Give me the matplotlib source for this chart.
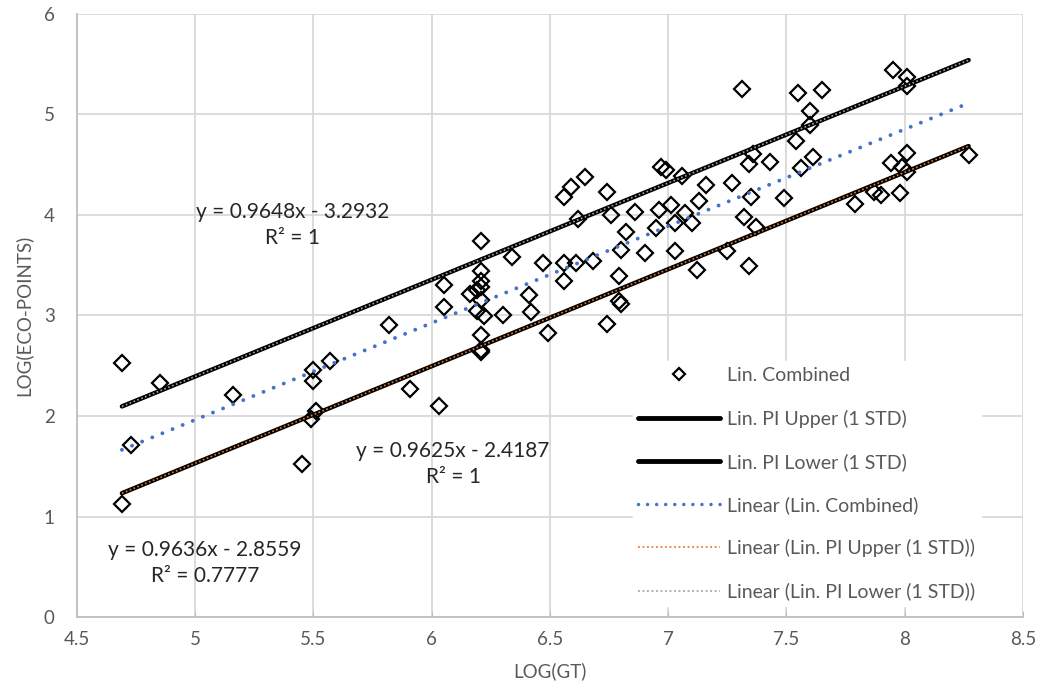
import numpy as np
import matplotlib.pyplot as plt
from matplotlib.lines import Line2D

plt.rcParams['font.family'] = ['Lato', 'DejaVu Sans']

# scatter data
log_gt = [4.69, 4.85, 4.73, 4.69, 5.16, 5.50, 5.50, 5.57, 5.51, 5.49, 5.45, 5.82,
          5.91, 6.03, 6.05, 6.05, 6.21, 6.16, 6.21, 6.21, 6.21, 6.19, 6.21, 6.19,
          6.22, 6.21, 6.21, 6.21, 6.34, 6.30, 6.41, 6.42, 6.49, 6.47, 6.56, 6.56,
          6.61, 6.62, 6.56, 6.59, 6.65, 6.74, 6.76, 6.86, 6.96, 7.01, 7.07, 7.10,
          7.03, 6.95, 6.82, 6.80, 6.90, 7.03, 6.97, 6.99, 7.06, 7.16, 7.27, 7.36,
          7.34, 7.43, 7.35, 7.49, 7.32, 7.37, 7.13, 7.25, 7.34, 7.12, 6.68, 6.79,
          6.79, 6.80, 6.74, 7.55, 7.65, 7.60, 7.60, 7.54, 7.61, 7.56, 7.95, 8.01,
          8.01, 8.01, 7.94, 7.99, 8.01, 7.98, 7.90, 7.87, 7.79, 8.27, 7.31]
log_eco = [2.53, 2.33, 1.71, 1.12, 2.21, 2.46, 2.35, 2.55, 2.05, 1.97, 1.52, 2.91,
           2.27, 2.10, 3.30, 3.08, 3.74, 3.21, 3.44, 3.34, 3.28, 3.25, 3.15, 3.04,
           2.99, 2.81, 2.66, 2.64, 3.58, 3.00, 3.20, 3.03, 2.83, 3.52, 3.52, 3.34,
           3.52, 3.96, 4.18, 4.28, 4.38, 4.23, 4.00, 4.03, 4.05, 4.10, 4.02, 3.92,
           3.92, 3.87, 3.83, 3.65, 3.62, 3.64, 4.48, 4.45, 4.39, 4.30, 4.32, 4.61,
           4.51, 4.53, 4.18, 4.17, 3.98, 3.88, 4.14, 3.64, 3.49, 3.45, 3.54, 3.39,
           3.14, 3.11, 2.92, 5.21, 5.24, 5.03, 4.90, 4.74, 4.58, 4.47, 5.44, 5.37,
           5.28, 4.62, 4.52, 4.48, 4.43, 4.22, 4.20, 4.23, 4.11, 4.60, 5.25]

# trend lines: slope, intercept
upper_fit = (0.9625, -2.4187)
lower_fit = (0.9648, -3.2932)
comb_fit = (0.9636, -2.8559)

x = np.array(log_gt)
xr = np.array([x.min(), x.max()])

fig = plt.figure(figsize=(10.46, 6.99), dpi=100)
ax = fig.add_axes([0.0736, 0.1173, 0.9044, 0.8627])

grid_c = '#d9d9d9'
ax.set_xlim(4.5, 8.5)
ax.set_ylim(0, 6)
ax.set_xticks(np.arange(4.5, 8.51, 0.5))
ax.set_yticks(range(0, 7))
ax.set_xticklabels(['4.5', '5', '5.5', '6', '6.5', '7', '7.5', '8', '8.5'])
ax.grid(True, color=grid_c, lw=1.3, zorder=0)
ax.set_axisbelow(True)
for s in ['top', 'right']:
    ax.spines[s].set_visible(False)
for s in ['left', 'bottom']:
    ax.spines[s].set_color('#bfbfbf')
    ax.spines[s].set_linewidth(1.3)
ax.tick_params(axis='both', colors='#bfbfbf', labelcolor='#595959', labelsize=13.5)
ax.tick_params(axis='x', direction='in', length=4, pad=10)
ax.tick_params(axis='y', length=0, pad=16)

ax.plot(x, log_eco, ls='none', marker='D', ms=8, mfc='none', mec='black',
        mew=1.6, zorder=3)

up = upper_fit[0] * xr + upper_fit[1]
lo = lower_fit[0] * xr + lower_fit[1]
cb = comb_fit[0] * xr + comb_fit[1]
ax.plot(xr, up, color='black', lw=3.2, solid_capstyle='round', zorder=4)
ax.plot(xr, lo, color='black', lw=3.2, solid_capstyle='round', zorder=4)
ax.plot(xr, up, color='#a5a5a5', lw=1.2, ls=(0, (1, 1.5)), zorder=5)
ax.plot(xr, lo, color='#ed7d31', lw=1.2, ls=(0, (1, 1.5)), zorder=5)
ax.plot(xr, cb, color='#4472c4', lw=2.8, ls=(0, (0.01, 2.8)),
        dash_capstyle='round', zorder=5)

tkw = dict(ha='center', va='center', fontsize=15, color='#262626',
           linespacing=1.4, multialignment='center')
ax.text(5.41, 3.90, 'y = 0.9648x - 3.2932\nR² = 1', **tkw)
ax.text(6.09, 1.52, 'y = 0.9625x - 2.4187\nR² = 1', **tkw)
ax.text(5.04, 0.54, 'y = 0.9636x - 2.8559\nR² = 0.7777', **tkw)

ax.set_xlabel('LOG(GT)', fontsize=13.5, color='#595959', labelpad=10)
ax.set_ylabel('LOG(ECO-POINTS)', fontsize=13.5, color='#595959', labelpad=8)

handles = [
    Line2D([], [], ls='none', marker='D', ms=6, mfc='none', mec='black', mew=1.6),
    Line2D([], [], color='black', lw=3.5, solid_capstyle='round'),
    Line2D([], [], color='black', lw=3.5, solid_capstyle='round'),
    Line2D([], [], color='#4472c4', lw=2.5, ls=(0, (0.01, 2.6)), dash_capstyle='round'),
    Line2D([], [], color='#ed7d31', lw=1.3, ls=(0, (1, 1.5))),
    Line2D([], [], color='#a5a5a5', lw=1.3, ls=(0, (1, 1.5))),
]
labels = ['Lin. Combined', 'Lin. PI Upper (1 STD)', 'Lin. PI Lower (1 STD)',
          'Linear (Lin. Combined)', 'Linear (Lin. PI Upper (1 STD))',
          'Linear (Lin. PI Lower (1 STD))']
leg = ax.legend(handles, labels, loc='upper left', bbox_to_anchor=(0.577, 0.44),
                frameon=True, fancybox=False, framealpha=1, edgecolor='white',
                fontsize=14, handlelength=4.2, handletextpad=0.35,
                labelspacing=1.3, borderpad=0.3)
for t in leg.get_texts():
    t.set_color('#595959')

fig.savefig('out.png', dpi=100)
